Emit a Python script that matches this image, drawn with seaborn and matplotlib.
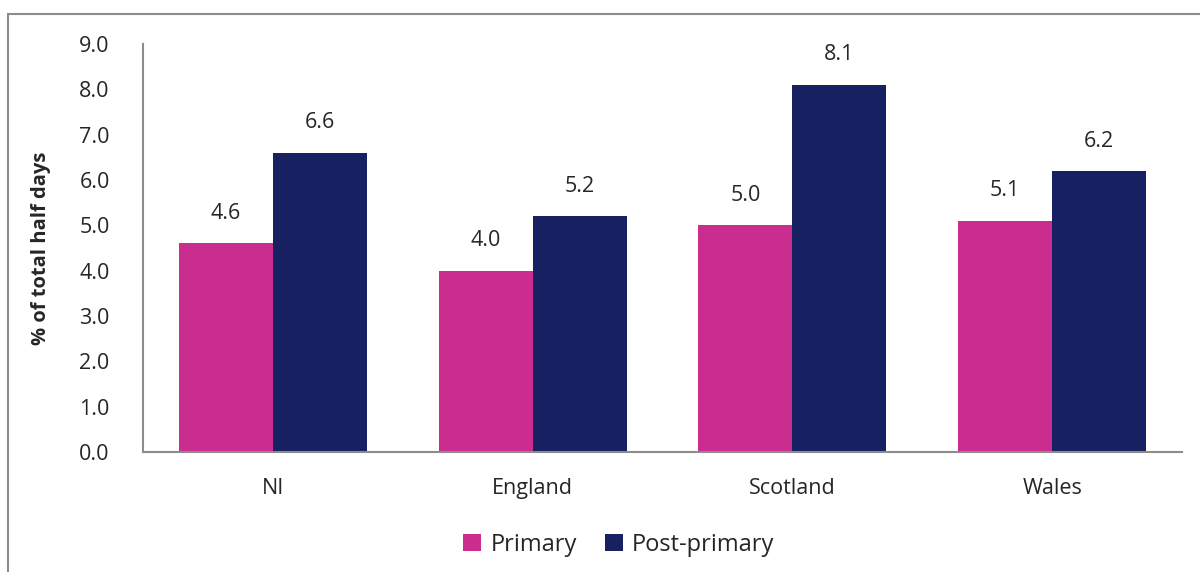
import pandas as pd
import numpy as np
import matplotlib
matplotlib.use("Agg")
import matplotlib.pyplot as plt
import seaborn as sns
from matplotlib.patches import Rectangle

# Data
countries = ["NI", "England", "Scotland", "Wales"]
primary = [4.6, 4.0, 5.0, 5.1]
post_primary = [6.6, 5.2, 8.1, 6.2]
series_names = ["Primary", "Post-primary"]
colors = ["#CB2D8E", "#172060"]
y_ticks = [0, 1, 2, 3, 4, 5, 6, 7, 8, 9]

df = pd.DataFrame({
    "country": countries * 2,
    "phase": [series_names[0]] * 4 + [series_names[1]] * 4,
    "value": primary + post_primary,
})

sns.set_style("white")
plt.rcParams["font.family"] = ["Open Sans", "DejaVu Sans"]

fig = plt.figure(figsize=(12, 5.72), dpi=100)
ax = fig.add_axes([0.1192, 0.2098, 0.8658, 0.7132])

sns.barplot(data=df, x="country", y="value", hue="phase", order=countries,
            hue_order=series_names, palette=colors, width=0.724,
            saturation=1, linewidth=0, ax=ax)

# value labels above each bar
for container in ax.containers:
    ax.bar_label(container, fmt="%.1f", padding=14, fontsize=15.5)

ax.set_ylim(0, 9)
ax.set_xlim(-0.5, 3.5)
ax.set_yticks(y_ticks)
ax.set_yticklabels([f"{t:.1f}" for t in y_ticks], fontsize=15.5)
ax.tick_params(axis="x", labelsize=15.5, pad=19, length=0)
ax.tick_params(axis="y", pad=24, length=0)
ax.set_xlabel("")
ax.set_ylabel("% of total half days", fontsize=14.5, fontweight="bold", labelpad=20)

for side in ["top", "right"]:
    ax.spines[side].set_visible(False)
for side in ["left", "bottom"]:
    ax.spines[side].set_color("#8C8C8C")
    ax.spines[side].set_linewidth(1.5)

ax.legend(loc="center", bbox_to_anchor=(0.458, -0.228),
          ncol=2, frameon=False, fontsize=17, handlelength=0.75,
          handleheight=0.75, handletextpad=0.4, columnspacing=1.2)

# outer chart frame (runs off the right and bottom edges)
fig.patches.append(Rectangle((8 / 1200, -0.1), 1.2, 1 - 14 / 572 + 0.1,
                             transform=fig.transFigure, fill=False,
                             edgecolor="#8C8C8C", linewidth=1.5))

fig.savefig("out.png", dpi=100)
